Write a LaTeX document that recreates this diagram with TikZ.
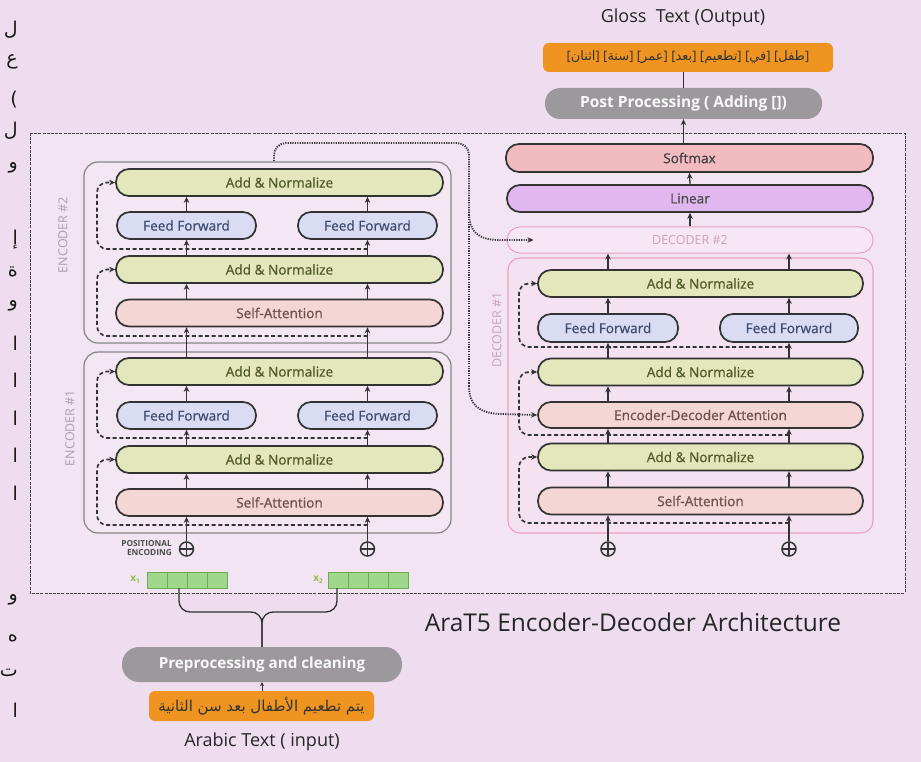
\documentclass[tikz,border=0pt]{standalone}
\usepackage{fontspec}
\setmainfont{Open Sans}
\newfontfamily\boxfont[FakeBold=0.7]{Open Sans}
\newfontfamily\arabicfont[Script=Arabic]{DejaVu Sans}
\TeXXeTstate=1
\usetikzlibrary{arrows.meta,calc}
\definecolor{bgc}{HTML}{EEDDEF}
\definecolor{framefill}{HTML}{F2E4F2}
\definecolor{ink}{HTML}{333333}
\definecolor{anfill}{HTML}{E4E7BC}
\definecolor{antext}{HTML}{4F5A26}
\definecolor{fffill}{HTML}{D9DCF2}
\definecolor{fftext}{HTML}{3E4C6E}
\definecolor{safill}{HTML}{F4D6D4}
\definecolor{satext}{HTML}{6B504C}
\definecolor{smfill}{HTML}{F1BBC0}
\definecolor{linfill}{HTML}{E0B7EE}
\definecolor{decpink}{HTML}{E8A2BE}
\definecolor{dec2fill}{HTML}{F7E7F4}
\definecolor{dec2text}{HTML}{C9A3B6}
\definecolor{decfill}{HTML}{F4E2F1}
\definecolor{encstroke}{HTML}{858585}
\definecolor{encfill}{HTML}{F3E7F3}
\definecolor{enclabel}{HTML}{A9A1AC}
\definecolor{orangec}{HTML}{EF9420}
\definecolor{graybox}{HTML}{9C989E}
\definecolor{cellfill}{HTML}{9FD88A}
\definecolor{cellline}{HTML}{6DAA58}
\definecolor{xlab}{HTML}{8CBF45}
\tikzset{
  box/.style={draw=ink, line width=1.7pt, rounded corners=13pt, inner sep=0pt,
    minimum height=27pt, font=\boxfont\fontsize{13.6}{15}\selectfont},
  anbox/.style={box, fill=anfill, text=antext, minimum width=327pt},
  ffbox/.style={box, fill=fffill, text=fftext, minimum width=139pt},
  sabox/.style={box, fill=safill, text=satext, minimum width=327pt},
  cont/.style={draw=encstroke, fill=encfill, line width=1.2pt, rounded corners=14pt},
  arr/.style={draw=ink, line width=1.3pt, -{Stealth[length=6pt,width=5.5pt]}},
  resid/.style={draw=ink, line width=1.7pt, dash pattern=on 4pt off 2.6pt,
    rounded corners=10pt, -{Stealth[length=6pt,width=5.5pt]}},
  dots/.style={draw=ink, line width=1.8pt, dash pattern=on 1.2pt off 1.2pt},
  dotarr/.style={dots, -{Stealth[length=6pt,width=5.5pt]}},
  plusc/.style={circle, draw=ink, line width=1.5pt, minimum size=14pt, inner sep=0pt,
    path picture={\draw[ink, line width=1.4pt]
      (path picture bounding box.north) -- (path picture bounding box.south)
      (path picture bounding box.west) -- (path picture bounding box.east);}},
  cell/.style={draw=cellline, fill=cellfill, line width=0.8pt, minimum width=20pt,
    minimum height=16pt, inner sep=0pt},
  vlabel/.style={rotate=90, font=\fontsize{12.5}{13}\selectfont},
  leftch/.style={anchor=east, font=\arabicfont\fontsize{19}{20}\selectfont, text=black!90, inner sep=0pt},
}
\begin{document}
\begin{tikzpicture}[x=1pt,y=-1pt]
\fill[bgc] (0,0) rectangle (921,762);
\useasboundingbox (0,0) rectangle (921,762);

% left margin fragments
\foreach \ch/\yy [count=\i] in {ل/30,ع/62,)/100,ل/131,و/168,إ/240,ة/272,و/306,ا/343,ا/380,ا/418,ا/455,ا/493,و/600,ه/638,ت/673,ا/710}{
  \node[leftch] (lf\i) at (18,\yy) {\beginR\ch\endR};
}

% frame
\draw[draw=ink!90, fill=framefill, line width=0.9pt, dash pattern=on 3pt off 1.2pt] (30,133) rectangle (905,593);

% top output
\node[font=\fontsize{18}{20}\selectfont, text=black!85] (gloss) at (683,18) {Gloss\ \ Text (Output)};
\node[fill=orangec, rounded corners=6pt, minimum width=290pt, minimum height=29pt, inner sep=0pt,
  font=\fontsize{13}{14}\selectfont, text=black!80] (outar) at (688,57.5)
  {[{\arabicfont\beginR اثنان\endR}] [{\arabicfont\beginR سنة\endR}] [{\arabicfont\beginR عمر\endR}] [{\arabicfont\beginR بعد\endR}] [{\arabicfont\beginR تطعيم\endR}] [{\arabicfont\beginR في\endR}] [{\arabicfont\beginR طفل\endR}]};
\node[fill=graybox, rounded corners=15pt, minimum width=277pt, minimum height=31pt, inner sep=0pt,
  font=\fontsize{15.5}{17}\selectfont\bfseries, text=white!95!gray] (post) at (683.5,103.5) {Post Processing ( Adding [])};
\draw[ink, line width=1.3pt] (outar.south -| post) -- (post.north);

% encoder containers
\node[cont, minimum width=367pt, minimum height=181pt] (enc2) at (267.5,252.5) {};
\node[cont, minimum width=367pt, minimum height=181pt] (enc1) at (267.5,442.5) {};
\node[vlabel, text=enclabel] (enc2lab) at (63,235) {ENCODER \#2};
\node[vlabel, text=enclabel] (enc1lab) at (70,428) {ENCODER \#1};

% encoder 2
\node[anbox] (e2an2) at (279.5,182.5) {Add \& Normalize};
\node[ffbox] (e2ffl) at (186.5,225.5) {Feed Forward};
\node[ffbox] (e2ffr) at (367.5,225.5) {Feed Forward};
\node[anbox] (e2an1) at (279.5,269.5) {Add \& Normalize};
\node[sabox] (e2sa) at (279.5,313) {Self-Attention};
% encoder 1
\node[anbox] (e1an2) at (279.5,371.5) {Add \& Normalize};
\node[ffbox] (e1ffl) at (186.5,415.5) {Feed Forward};
\node[ffbox] (e1ffr) at (367.5,415.5) {Feed Forward};
\node[anbox] (e1an1) at (279.5,459.5) {Add \& Normalize};
\node[sabox] (e1sa) at (279.5,502.5) {Self-Attention};

\node[plusc] (pea) at (186.5,549) {};
\node[plusc] (peb) at (367.5,549) {};
\node[font=\fontsize{8.3}{8.5}\selectfont\bfseries, text=black!70, align=right, inner sep=0pt, anchor=east] (posenc) at (172,548) {POSITIONAL\\ENCODING};

% encoder column arrows
\foreach \c in {pea,peb}{
  \draw[arr] (\c.north) -- (\c |- e1sa.south);
  \draw[arr] (\c |- e1sa.north) -- (\c |- e1an1.south);
  \draw[arr] (\c |- e1an1.north) -- (\c |- e1ffl.south);
  \draw[arr] (\c |- e1ffl.north) -- (\c |- e1an2.south);
  \draw[arr] (\c |- e1an2.north) -- (\c |- e2sa.south);
  \draw[arr] (\c |- e2sa.north) -- (\c |- e2an1.south);
  \draw[arr] (\c |- e2an1.north) -- (\c |- e2ffl.south);
  \draw[arr] (\c |- e2ffl.north) -- (\c |- e2an2.south);
}
% encoder residuals
\coordinate (e1r1) at (367.5,525);
\coordinate (e1r2) at (367.5,438);
\coordinate (e2r1) at (367.5,336);
\coordinate (e2r2) at (367.5,249);
\draw[resid] (e1r1) -- (97,525) -- (97,459.5) -- (e1an1.west);
\draw[resid] (e1r2) -- (97,438) -- (97,371.5) -- (e1an2.west);
\draw[resid] (e2r1) -- (97,336) -- (97,269.5) -- (e2an1.west);
\draw[resid] (e2r2) -- (97,249) -- (97,182.5) -- (e2an2.west);

% inputs x1 x2
\foreach \k in {0,1,2,3}{
  \node[cell] (xa\k) at ({157+20*\k},580) {};
  \node[cell] (xb\k) at ({338.5+20*\k},580) {};
}
\node[font=\fontsize{10}{11}\selectfont\bfseries, text=xlab] (x1lab) at (135,580) {x\raisebox{-1.5pt}{\fontsize{6.5}{6.5}\selectfont 1}};
\node[font=\fontsize{10}{11}\selectfont\bfseries, text=xlab] (x2lab) at (318,580) {x\raisebox{-1.5pt}{\fontsize{6.5}{6.5}\selectfont 2}};

% decoder side
\node[box, fill=smfill, text=black!75, minimum width=367pt, minimum height=28pt] (softmax) at (689.5,158) {Softmax};
\node[box, fill=linfill, text=black!70, minimum width=366pt] (linear) at (690,198.5) {Linear};
\node[box, draw=decpink, line width=1pt, fill=dec2fill, font=\fontsize{12.5}{13}\selectfont, text=dec2text, minimum width=366pt, minimum height=26pt] (dec2) at (690,240) {DECODER \#2};
\node[draw=decpink, fill=decfill, line width=1.1pt, rounded corners=12pt, minimum width=365pt, minimum height=275pt] (dec1) at (690.5,395.5) {};
\node[vlabel, text=dec2text] (dec1lab) at (497,330) {DECODER \#1};

\node[anbox, minimum width=325pt] (dan3) at (700.5,283.5) {Add \& Normalize};
\node[ffbox, minimum width=140pt, minimum height=28pt] (dffl) at (608,328) {Feed Forward};
\node[ffbox, minimum width=138pt, minimum height=28pt] (dffr) at (789,328) {Feed Forward};
\node[anbox, minimum width=325pt] (dan2) at (700.5,372) {Add \& Normalize};
\node[sabox, minimum width=325pt, minimum height=26pt] (eda) at (700.5,415) {Encoder-Decoder Attention};
\node[anbox, minimum width=325pt] (dan1) at (700.5,457) {Add \& Normalize};
\node[sabox, minimum width=325pt] (dsa) at (700.5,501) {Self-Attention};

\node[plusc] (pda) at (608,549) {};
\node[plusc] (pdb) at (789,549) {};

\foreach \c in {pda,pdb}{
  \draw[arr] (\c.north) -- (\c |- dsa.south);
  \draw[arr] (\c |- dsa.north) -- (\c |- dan1.south);
  \draw[arr] (\c |- dan1.north) -- (\c |- eda.south);
  \draw[arr] (\c |- eda.north) -- (\c |- dan2.south);
  \draw[arr] (\c |- dan2.north) -- (\c |- dffl.south);
  \draw[arr] (\c |- dffl.north) -- (\c |- dan3.south);
  \draw[arr] (\c |- dan3.north) -- (\c |- dec2.south);
}
\draw[arr] (dec2.north) -- (linear.south);
\draw[arr] (linear.north) -- (softmax.south);
\draw[arr] (post |- softmax.north) -- (post.south);

\coordinate (dr1) at (789,523);
\coordinate (dr2) at (789,435);
\coordinate (dr3) at (789,347);
\draw[resid] (dr1) -- (519,523) -- (519,457) -- (dan1.west);
\draw[resid] (dr2) -- (519,435) -- (519,372) -- (dan2.west);
\draw[resid] (dr3) -- (519,347) -- (519,283.5) -- (dan3.west);

% encoder to decoder dotted
\coordinate (ed0) at (274,161);
\coordinate (edv) at (469,212);
\coordinate (dec2in) at ($(dec2.west)+(27,0)$);
\draw[dots, rounded corners=12pt] (ed0) -- (274,143) -- (469,143) -- (edv);
\draw[dotarr] (edv) .. controls (469,232) and (478,240) .. (500,240) -- (dec2in);
\draw[dots] (edv) -- (469,386);
\draw[dotarr] (469,386) .. controls (469,404) and (478,413) .. (500,414) -- (eda.west);

% title
\node[font=\fontsize{24.5}{27}\selectfont, text=black!85] (title) at (633,622) {AraT5 Encoder-Decoder Architecture};

% bottom input
\node[fill=graybox, rounded corners=17pt, minimum width=280pt, minimum height=35pt, inner sep=0pt,
  font=\fontsize{15.2}{17}\selectfont\bfseries, text=white!95!gray] (pre) at (262,664.5) {Preprocessing and cleaning};
\node[fill=orangec, rounded corners=6pt, minimum width=225pt, minimum height=30pt, inner sep=0pt,
  font=\arabicfont\fontsize{15}{16}\selectfont, text=black!80] (inar) at (261.5,706)
  {\beginR يتم تطعيم الأطفال بعد سن الثانية\endR};
\draw[draw=ink, line width=1pt, -{Stealth[length=4pt,width=4pt]}] (inar.north -| pre) -- (pre.south);
\node[font=\fontsize{18}{20}\selectfont, text=black!85] (arlab) at (262,742) {Arabic Text ( input)};

\coordinate (ba) at (179,588);
\coordinate (bb) at (337,588);
\coordinate (bm) at (262,612);
\draw[ink, line width=1.3pt, rounded corners=11pt] (ba) -- (179,612) -- (262,612) -- (pre.north);
\draw[ink, line width=1.3pt, rounded corners=11pt] (bb) -- (337,612) -- (262,612) -- (pre.north);
\end{tikzpicture}
\end{document}
